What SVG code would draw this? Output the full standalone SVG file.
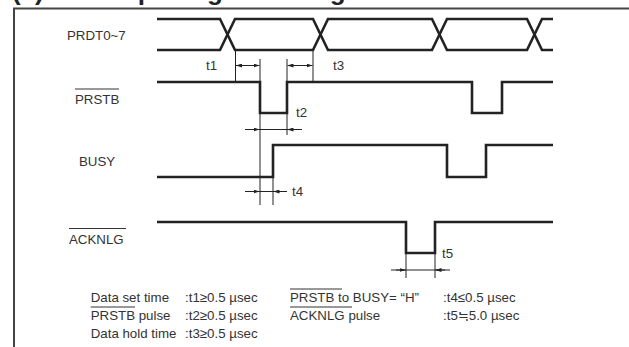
<svg xmlns="http://www.w3.org/2000/svg" width="629" height="347" viewBox="0 0 629 347">
<style>
.frame{fill:none;stroke:#444;stroke-width:2}
.wave{fill:none;stroke:#222;stroke-width:2.6;stroke-linejoin:miter}
.dim{fill:none;stroke:#222;stroke-width:1}
.lbl{font-family:"Liberation Sans",Arial,sans-serif;font-size:13.3px;fill:#333}
.ttl{font-family:"Liberation Sans",Arial,sans-serif;font-size:26px;font-weight:bold;fill:#222}
.ovl{fill:none;stroke:#333;stroke-width:1}
</style>
<defs>
<marker id="ah" viewBox="0 0 6 4" refX="6" refY="2" markerWidth="6" markerHeight="4" markerUnits="userSpaceOnUse" orient="auto-start-reverse">
<path d="M0,0 L6,2 L0,4 z" fill="#222"/>
</marker>
</defs>
<rect width="629" height="347" fill="#fff"/>
<text class="ttl" x="12" y="0">(3) Data input signal timing</text>
<path class="frame" d="M14,347 V8.5 H629"/>

<g id="PRDT">
<text class="lbl" x="67" y="39.5">PRDT0~7</text>
<path class="wave" d="M157,19 H220 L235,50 H313 L328,19 H432 L447,50 H527 L542,19 H553"/>
<path class="wave" d="M157,50 H220 L235,19 H313 L328,50 H432 L447,19 H527 L542,50 H553"/>
</g>

<g id="PRSTB">
<text class="lbl" x="75" y="103.5">PRSTB</text>
<line class="ovl" x1="75" y1="89" x2="119" y2="89"/>
<path class="wave" d="M157,82 H260 V113 H287 V82 H472 V113 H502 V82 H553"/>
</g>

<g id="BUSY">
<text class="lbl" x="79" y="166">BUSY</text>
<path class="wave" d="M157,177 H273 V145 H447 V177 H486 V145 H553"/>
</g>

<g id="ACKNLG">
<text class="lbl" x="69" y="243.5">ACKNLG</text>
<line class="ovl" x1="69" y1="228.5" x2="126" y2="228.5"/>
<path class="wave" d="M157,222 H406 V253 H435 V222 H553"/>
</g>

<g id="connectors">
<line class="dim" x1="235.5" y1="50" x2="235.5" y2="82"/>
<line class="dim" x1="260" y1="59" x2="260" y2="205"/>
<line class="dim" x1="287" y1="59" x2="287" y2="82"/>
<line class="dim" x1="287" y1="113" x2="287" y2="135"/>
<line class="dim" x1="313" y1="50" x2="313" y2="82"/>
<line class="dim" x1="273" y1="177" x2="273" y2="205"/>
<line class="dim" x1="406" y1="253" x2="406" y2="278"/>
<line class="dim" x1="435" y1="253" x2="435" y2="278"/>
<!-- t1 -->
<line class="dim" x1="236" y1="65.5" x2="259.5" y2="65.5" marker-start="url(#ah)" marker-end="url(#ah)"/>
<!-- t3 -->
<line class="dim" x1="287.5" y1="65.5" x2="312.5" y2="65.5" marker-start="url(#ah)" marker-end="url(#ah)"/>
<!-- t2 -->
<line class="dim" x1="245" y1="129.5" x2="302" y2="129.5"/>
<line class="dim" x1="250" y1="129.5" x2="259.5" y2="129.5" marker-end="url(#ah)"/>
<line class="dim" x1="297" y1="129.5" x2="287.5" y2="129.5" marker-end="url(#ah)"/>
<!-- t4 -->
<line class="dim" x1="245" y1="191.5" x2="287" y2="191.5"/>
<line class="dim" x1="250" y1="191.5" x2="259.5" y2="191.5" marker-end="url(#ah)"/>
<line class="dim" x1="283" y1="191.5" x2="273.5" y2="191.5" marker-end="url(#ah)"/>
<!-- t5 -->
<line class="dim" x1="391" y1="270" x2="450" y2="270"/>
<line class="dim" x1="396" y1="270" x2="405.5" y2="270" marker-end="url(#ah)"/>
<line class="dim" x1="445" y1="270" x2="435.5" y2="270" marker-end="url(#ah)"/>
</g>

<g id="dim-labels">
<text class="lbl" x="206" y="70">t1</text>
<text class="lbl" x="333" y="70">t3</text>
<text class="lbl" x="296" y="117">t2</text>
<text class="lbl" x="292" y="196">t4</text>
<text class="lbl" x="442" y="258">t5</text>
</g>

<g id="legend">
<text class="lbl" x="90.7" y="302">Data set time</text>
<text class="lbl" x="185" y="302">:t1≥0.5 µsec</text>
<text class="lbl" x="90.7" y="320">PRSTB pulse</text>
<line class="ovl" x1="90.7" y1="307" x2="135" y2="307"/>
<text class="lbl" x="185" y="320">:t2≥0.5 µsec</text>
<text class="lbl" x="90.7" y="338">Data hold time</text>
<text class="lbl" x="185" y="338">:t3≥0.5 µsec</text>
<text class="lbl" x="290" y="302">PRSTB to BUSY= “H”</text>
<line class="ovl" x1="290" y1="289" x2="342" y2="289"/>
<text class="lbl" x="443" y="302">:t4≤0.5 µsec</text>
<text class="lbl" x="290" y="320">ACKNLG pulse</text>
<line class="ovl" x1="290" y1="307" x2="352" y2="307"/>
<text class="lbl" x="443" y="320">:t5≒5.0 µsec</text>
</g>
</svg>
